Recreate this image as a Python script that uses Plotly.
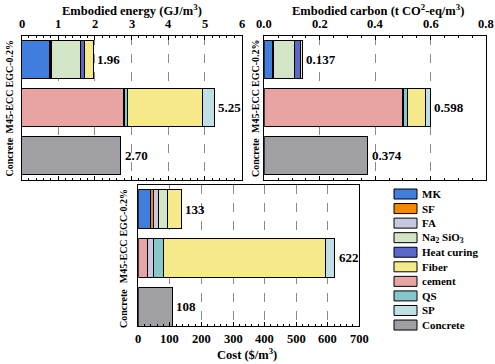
import plotly.graph_objects as go

# ---------------- data ----------------
categories = ["Concrete", "M45-ECC", "EGC-0.2%"]

# stacking order of materials (trace order)
materials = ["MK", "SF", "cement", "FA", "Na2SiO3", "Heat curing", "QS", "Fiber", "SP", "Concrete"]

# Embodied energy (GJ/m3)   [Concrete, M45-ECC, EGC-0.2%]
energy = {
    "MK":          [None, None, 0.755],
    "SF":          [None, None, 0.03],
    "cement":      [None, 2.78, None],
    "FA":          [None, 0.04, 0.035],
    "Na2SiO3":     [None, None, 0.79],
    "Heat curing": [None, None, 0.10],
    "QS":          [None, 0.08, None],
    "Fiber":       [None, 2.03, 0.25],
    "SP":          [None, 0.32, None],
    "Concrete":    [2.70, None, None],
}
energy_labels = ["2.70", "5.25", "1.96"]
energy_ticks = [0, 1, 2, 3, 4, 5, 6]

# Embodied carbon (t CO2-eq/m3)
carbon = {
    "MK":          [None, None, 0.029],
    "SF":          [None, None, 0.002],
    "cement":      [None, 0.497, None],
    "FA":          [None, 0.007, 0.003],
    "Na2SiO3":     [None, None, 0.074],
    "Heat curing": [None, None, 0.023],
    "QS":          [None, 0.012, None],
    "Fiber":       [None, 0.065, 0.006],
    "SP":          [None, 0.017, None],
    "Concrete":    [0.374, None, None],
}
carbon_labels = ["0.374", "0.598", "0.137"]
carbon_ticks = [0.0, 0.2, 0.4, 0.6, 0.8]

# Cost ($/m3)
cost = {
    "MK":          [None, None, 39],
    "SF":          [None, None, 8],
    "cement":      [None, 30, None],
    "FA":          [None, 18, 17],
    "Na2SiO3":     [None, None, 28],
    "Heat curing": [None, None, 2],
    "QS":          [None, 32, None],
    "Fiber":       [None, 514, 42],
    "SP":          [None, 28, None],
    "Concrete":    [108, None, None],
}
cost_labels = ["108", "622", "133"]
cost_ticks = [0, 100, 200, 300, 400, 500, 600, 700]

panel_titles = ["Embodied energy (GJ/m<sup>3</sup>)",
                "Embodied carbon (t CO<sup>2</sup>-eq/m<sup>3</sup>)",
                "Cost ($/m<sup>3</sup>)"]

colors = {
    "MK": "#3F7EDC",
    "SF": "#F08A00",
    "FA": "#C6CAE0",
    "Na2SiO3": "#D3E5C7",
    "Heat curing": "#5968C9",
    "Fiber": "#F5E98A",
    "cement": "#E8A3A3",
    "QS": "#86C6CD",
    "SP": "#BEE0E4",
    "Concrete": "#A0A0A4",
}

legend_order = ["MK", "SF", "FA", "Na2SiO3", "Heat curing", "Fiber", "cement", "QS", "SP", "Concrete"]
legend_text = {
    "MK": "MK", "SF": "SF", "FA": "FA", "Na2SiO3": "Na<sub>2</sub> SiO<sub>3</sub>",
    "Heat curing": "Heat curing", "Fiber": "Fiber", "cement": "cement",
    "QS": "QS", "SP": "SP", "Concrete": "Concrete",
}

FONT = "Liberation Serif, Times New Roman, serif"
W, H = 495, 364

def px_x(p):
    return p / W

def px_y(p):
    return 1 - p / H

def bold(size):
    return dict(size=size, family=FONT, color="black", weight="bold")

fig = go.Figure()

panels = [
    (energy, energy_labels, energy_ticks, "{:g}", "x", "y", 9.0, (131.5, 9.5), 24.0),
    (carbon, carbon_labels, carbon_ticks, "{:.1f}", "x2", "y2", 255.5, (378, 9.5), 24.0),
    (cost, cost_labels, cost_ticks, "{:g}", "x3", "y3", 123.5, (247, 354), 338.5),
]

for k, (data, labels, ticks, fmt, xa, ya, ylab_x, tpos, tick_y) in enumerate(panels):
    for m in materials:
        fig.add_trace(go.Bar(
            y=categories, x=data[m], orientation="h", name=m,
            marker=dict(color=colors[m], line=dict(color="black", width=1)),
            xaxis=xa, yaxis=ya, showlegend=False, width=0.8,
        ))
    for i, c in enumerate(categories):
        tot = sum(v[i] for v in data.values() if v[i] is not None)
        # total value label
        fig.add_annotation(x=tot, y=c, xref=xa, yref=ya, text=labels[i],
                           showarrow=False, xanchor="left", yanchor="middle",
                           xshift=2, font=bold(13))
        # category label (rotated)
        fig.add_annotation(x=px_x(ylab_x), y=c, xref="paper", yref=ya, text=c,
                           showarrow=False, textangle=-90, xanchor="center", yanchor="middle",
                           yshift=-4 if i > 0 else -2, font=bold(10))
    # tick labels
    for t in ticks:
        fig.add_annotation(x=t, y=px_y(tick_y), xref=xa, yref="paper", text=fmt.format(t),
                           showarrow=False, xanchor="center", yanchor="middle", font=bold(12.5))
    # axis title
    fig.add_annotation(x=px_x(tpos[0]), y=px_y(tpos[1]), xref="paper", yref="paper",
                       text=panel_titles[k], showarrow=False, xanchor="center", yanchor="middle",
                       font=bold(12.5))

common_x = dict(
    showline=True, linecolor="black", linewidth=1,
    ticks="inside", ticklen=4, tickcolor="black", showticklabels=False,
    showgrid=True, gridcolor="#8a8a8a", griddash="dash", gridwidth=1,
    zeroline=False, automargin=False,
    minor=dict(ticks="inside", ticklen=2, tickcolor="black", showgrid=False),
)
common_y = dict(
    type="category", categoryorder="array", categoryarray=categories,
    showline=True, linecolor="black", linewidth=1, mirror=True, automargin=False,
    ticks="", showgrid=False, showticklabels=False,
)

fig.update_layout(
    width=W, height=H, margin=dict(l=0, r=0, t=0, b=0, autoexpand=False),
    plot_bgcolor="white", paper_bgcolor="white",
    font=dict(family=FONT, color="black", weight="bold"),
    barmode="stack", showlegend=False,
    xaxis=dict(domain=[px_x(21.5), px_x(241.5)], anchor="y", side="top", range=[0, 6], dtick=1,
               mirror="ticks", **common_x),
    yaxis=dict(domain=[px_y(179.5), px_y(35.5)], anchor="x", range=[-0.5, 2.5], **common_y),
    xaxis2=dict(domain=[px_x(264.3), px_x(486)], anchor="y2", side="top", range=[0, 0.8], dtick=0.2,
                mirror="ticks", **common_x),
    yaxis2=dict(domain=[px_y(179.5), px_y(35.5)], anchor="x2", range=[-0.5, 2.5], **common_y),
    xaxis3=dict(domain=[px_x(138.3), px_x(359.3)], anchor="y3", side="bottom", range=[0, 700], dtick=100,
                mirror=True, **common_x),
    yaxis3=dict(domain=[px_y(326), px_y(184.7)], anchor="x3", range=[-0.4, 2.5], **common_y),
)

# manual legend (paper coordinates)
y0 = 194.0
step = 14.56
for i, m in enumerate(legend_order):
    yc = y0 + i * step
    fig.add_shape(type="rect", xref="paper", yref="paper",
                  x0=px_x(394), x1=px_x(417), y0=px_y(yc + 5), y1=px_y(yc - 5),
                  fillcolor=colors[m], line=dict(color="black", width=1))
    fig.add_annotation(xref="paper", yref="paper", x=px_x(420), y=px_y(yc),
                       text=legend_text[m], showarrow=False, xanchor="left", yanchor="middle",
                       font=bold(11))

fig.write_html("out.html", config={"displayModeBar": False},
               post_script="document.body.style.margin='0';document.body.style.padding='0';")
